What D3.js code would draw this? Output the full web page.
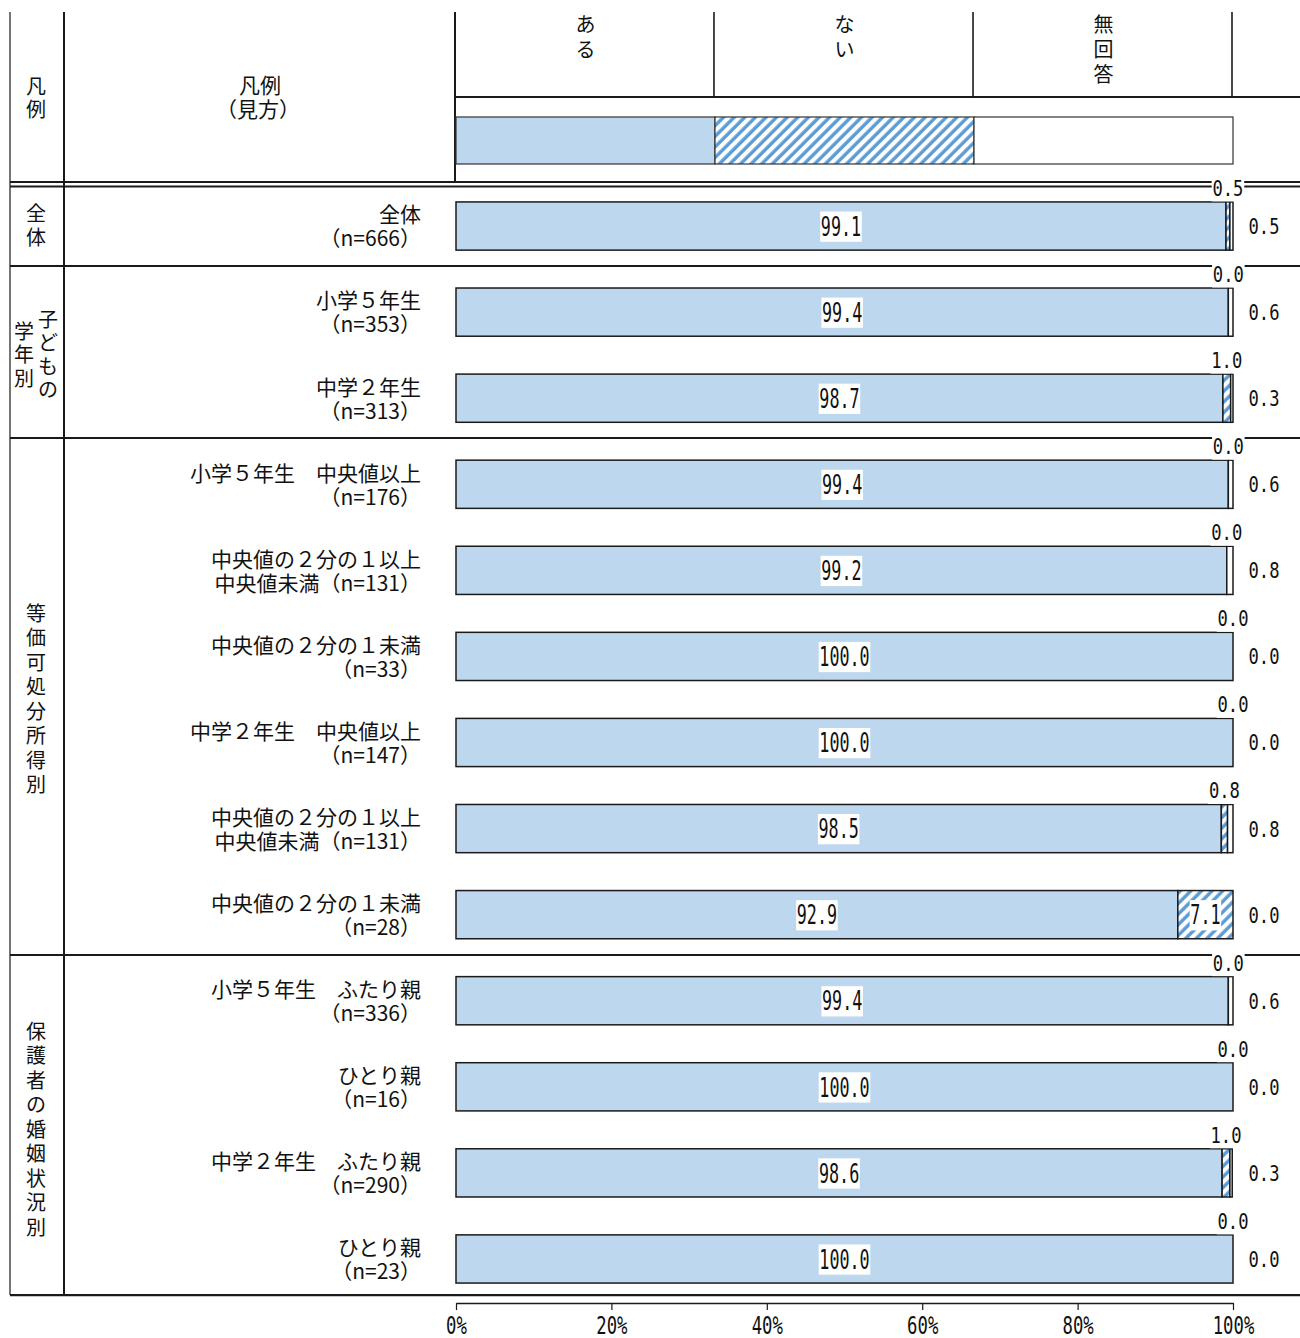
<!DOCTYPE html>
<html lang="ja">
<head>
<meta charset="utf-8">
<script src="https://cdn.jsdelivr.net/npm/d3@7"></script>
<style>
  html, body { margin: 0; padding: 0; background: #fff; }
  svg { display: block; }
  .jp { font-family: "Noto Sans CJK JP", "Noto Sans", sans-serif; fill: #111; }
</style>
</head>
<body>
<svg id="chart" width="1300" height="1338"></svg>
<script>
// ---- data -------------------------------------------------------------
const seriesNames = ["ある", "ない", "無回答"];

const rowLine1 = [
  "全体", "小学５年生", "中学２年生",
  "小学５年生　中央値以上", "中央値の２分の１以上", "中央値の２分の１未満",
  "中学２年生　中央値以上", "中央値の２分の１以上", "中央値の２分の１未満",
  "小学５年生　ふたり親", "ひとり親", "中学２年生　ふたり親", "ひとり親"
];
const rowLine2 = [
  "（n=666）", "（n=353）", "（n=313）",
  "（n=176）", "中央値未満（n=131）", "（n=33）",
  "（n=147）", "中央値未満（n=131）", "（n=28）",
  "（n=336）", "（n=16）", "（n=290）", "（n=23）"
];

const valAru    = [99.1, 99.4, 98.7, 99.4, 99.2, 100.0, 100.0, 98.5, 92.9, 99.4, 100.0, 98.6, 100.0];
const valNai    = [0.5, 0.0, 1.0, 0.0, 0.0, 0.0, 0.0, 0.8, 7.1, 0.0, 0.0, 1.0, 0.0];
const valMukaitou = [0.5, 0.6, 0.3, 0.6, 0.8, 0.0, 0.0, 0.8, 0.0, 0.6, 0.0, 0.3, 0.0];

// group headings (vertical text columns, right column first) and row spans
const groupCols  = [["全体"], ["子どもの", "学年別"], ["等価可処分所得別"], ["保護者の婚姻状況別"]];
const groupStart = [0, 1, 3, 9];
const groupEnd   = [0, 2, 8, 12];

const legendShares = [100 / 3, 100 / 3, 100 / 3];
const axisTicks = [0, 20, 40, 60, 80, 100];

// ---- setup ------------------------------------------------------------
const svg = d3.select("#chart");
const mono = '"DejaVu Sans Mono", "Liberation Mono", monospace';
const blue = "#bdd7ee";
const ink = "#1a1a1a";

const defs = svg.append("defs");
const hatch = defs.append("pattern")
  .attr("id", "hatch")
  .attr("patternUnits", "userSpaceOnUse")
  .attr("width", 7.5).attr("height", 7.5)
  .attr("patternTransform", "rotate(45)");
hatch.append("rect").attr("width", 7.5).attr("height", 7.5).attr("fill", "#fff");
hatch.append("line").attr("x1", 2).attr("y1", 0).attr("x2", 2).attr("y2", 7.5)
  .attr("stroke", "#5b9bd5").attr("stroke-width", 3.4);

const fills = [blue, "url(#hatch)", "#fff"];

const x = d3.scaleLinear().domain([0, 100]).range([456, 1233]);
const rows = d3.range(rowLine1.length);
const y = d3.scaleBand().domain(rows).range([183, 1302]).paddingInner(0.44).paddingOuter(0.22);
const bw = y.bandwidth();

const L = 10, C1 = 64, C2 = 455, R = 1300;
const topY = 12, headRule = 97, dbl = 182;
const bottomY = y(rows.length - 1) + bw + 12;
const jpSize = 21;

// numeric label: monospace, squeezed horizontally, optional white backing
function numLabel(parent, cx, cy, str, size, sx, bg) {
  const g = parent.append("g").attr("transform", `translate(${cx},${cy}) scale(${sx},1)`);
  const back = g.append("rect").attr("fill", "#fff");
  const t = g.append("text")
    .attr("text-anchor", "middle")
    .attr("dy", "0.36em")
    .style("font-family", mono)
    .style("font-size", size + "px")
    .style("fill", "#111")
    .text(str);
  if (bg) {
    const b = t.node().getBBox();
    back.attr("x", b.x - 1).attr("y", b.y + 1).attr("width", b.width + 2).attr("height", b.height - 1);
  } else back.remove();
}

// vertical CJK text, one glyph per line
function vText(parent, cx, cy, str, step) {
  const chars = Array.from(str);
  const y0 = cy - (chars.length - 1) * step / 2;
  parent.selectAll(null).data(chars).enter().append("text")
    .attr("class", "jp")
    .attr("x", cx)
    .attr("y", (d, i) => y0 + i * step)
    .attr("dy", "0.35em")
    .attr("text-anchor", "middle")
    .style("font-size", "20px")
    .text(d => d);
}

// ---- frame lines --------------------------------------------------------
const frame = svg.append("g").attr("stroke", ink).attr("fill", "none");
frame.append("line").attr("x1", L).attr("x2", L).attr("y1", topY).attr("y2", bottomY).attr("stroke-width", 1.2);
frame.append("line").attr("x1", C1).attr("x2", C1).attr("y1", topY).attr("y2", bottomY).attr("stroke-width", 2);
frame.append("line").attr("x1", C2).attr("x2", C2).attr("y1", topY).attr("y2", dbl).attr("stroke-width", 2);
frame.append("line").attr("x1", C2).attr("x2", R).attr("y1", headRule).attr("y2", headRule).attr("stroke-width", 2);
[33.33, 66.67, 100].forEach(v => {
  frame.append("line").attr("x1", x(v) - 1).attr("x2", x(v) - 1).attr("y1", topY).attr("y2", headRule).attr("stroke-width", 1.6);
});
// double rule under the header
frame.append("line").attr("x1", L).attr("x2", R).attr("y1", dbl).attr("y2", dbl).attr("stroke-width", 2);
frame.append("line").attr("x1", L).attr("x2", R).attr("y1", dbl + 4.5).attr("y2", dbl + 4.5).attr("stroke-width", 2);
// group separators
groupStart.slice(1).forEach(r => {
  const yy = Math.round((y(r - 1) + bw + y(r)) / 2) - 3;
  frame.append("line").attr("x1", L).attr("x2", R).attr("y1", yy).attr("y2", yy).attr("stroke-width", 2);
});
frame.append("line").attr("x1", L).attr("x2", R).attr("y1", bottomY).attr("y2", bottomY).attr("stroke-width", 2.2);

// ---- header -------------------------------------------------------------
vText(svg, 36, 98.5, "凡例", 23.5);
svg.append("text").attr("class", "jp").attr("x", 260).attr("y", 86).attr("dy", "0.35em")
  .attr("text-anchor", "middle").style("font-size", jpSize + "px").text("凡例");
svg.append("text").attr("class", "jp").attr("x", 258).attr("y", 110).attr("dy", "0.35em")
  .attr("text-anchor", "middle").style("font-size", jpSize + "px").text("（見方）");

let acc = 0;
const legendSegs = legendShares.map((v, i) => { const s = { i, x0: acc, x1: acc + v }; acc += v; return s; });
legendSegs.forEach(s => {
  const n = Array.from(seriesNames[s.i]).length;
  vText(svg, (x(s.x0) + x(s.x1)) / 2, 25 + (n - 1) * 12.5, seriesNames[s.i], 25);
});
svg.append("g").selectAll("rect").data(legendSegs).enter().append("rect")
  .attr("x", d => x(d.x0)).attr("width", d => x(d.x1) - x(d.x0))
  .attr("y", 117).attr("height", 47)
  .attr("fill", d => fills[d.i])
  .attr("stroke", "#333").attr("stroke-width", 1.2);

// ---- group headings -----------------------------------------------------
groupCols.forEach((cols, gi) => {
  const top = y(groupStart[gi]) - 20, bot = y(groupEnd[gi]) + bw + 20;
  const cy = (top + bot) / 2;
  const colStep = 24;
  cols.forEach((txt, ci) => {
    const cx = 36 + (cols.length - 1) * colStep / 2 - ci * colStep;
    vText(svg, cx, cy, txt, gi === 1 ? 23.5 : 24.5);
  });
});

// ---- row labels ---------------------------------------------------------
rows.forEach(r => {
  const cy = y(r) + bw / 2;
  svg.append("text").attr("class", "jp").attr("x", 421).attr("y", cy - 11).attr("dy", "0.35em")
    .attr("text-anchor", "end").style("font-size", jpSize + "px").text(rowLine1[r]);
  svg.append("text").attr("class", "jp").attr("x", 421).attr("y", cy + 13).attr("dy", "0.35em")
    .attr("text-anchor", "end").style("font-size", jpSize + "px").text(rowLine2[r]);
});

// ---- stacked bars -------------------------------------------------------
const segs = rows.map(r => {
  const vals = [valAru[r], valNai[r], valMukaitou[r]];
  let a = 0;
  return vals.map((v, i) => { const s = { r, i, v, x0: a, x1: Math.min(100, a + v) }; a += v; return s; });
});

svg.append("g").selectAll("g").data(segs).enter().append("g")
  .selectAll("rect").data(d => d).enter().append("rect")
  .attr("x", d => x(d.x0))
  .attr("width", d => Math.max(0, x(d.x1) - x(d.x0)))
  .attr("y", d => y(d.r))
  .attr("height", bw)
  .attr("fill", d => fills[d.i])
  .attr("stroke", ink).attr("stroke-width", 1.5);

const labels = svg.append("g");
segs.forEach(s => {
  const r = s[0].r, cy = y(r) + bw / 2;
  // ある: value inside the bar
  numLabel(labels, (x(s[0].x0) + x(s[0].x1)) / 2, cy, s[0].v.toFixed(1), 27, 0.62, true);
  // ない: inside when wide enough, otherwise above the bar end
  const nc = (x(s[1].x0) + x(s[1].x1)) / 2;
  if (s[1].v >= 5) numLabel(labels, nc, cy, s[1].v.toFixed(1), 27, 0.62, true);
  else numLabel(labels, nc, y(r) - 14, s[1].v.toFixed(1), 22, 0.78, true);
  // 無回答: to the right of the bar
  numLabel(labels, 1264, cy, s[2].v.toFixed(1), 22, 0.78, false);
});

// ---- axis ---------------------------------------------------------------
const axis = svg.append("g").attr("transform", `translate(0,${bottomY + 8})`)
  .call(d3.axisBottom(x).tickValues(axisTicks).tickSize(7).tickSizeOuter(0).tickFormat(() => ""));
axis.select(".domain").attr("stroke", ink).attr("stroke-width", 1.5);
axis.selectAll(".tick line").attr("stroke", ink).attr("stroke-width", 1.2);
axis.selectAll(".tick").each(function (d) {
  numLabel(d3.select(this), 0, 22, d + "%", 24, 0.72, false);
});
</script>
</body>
</html>
